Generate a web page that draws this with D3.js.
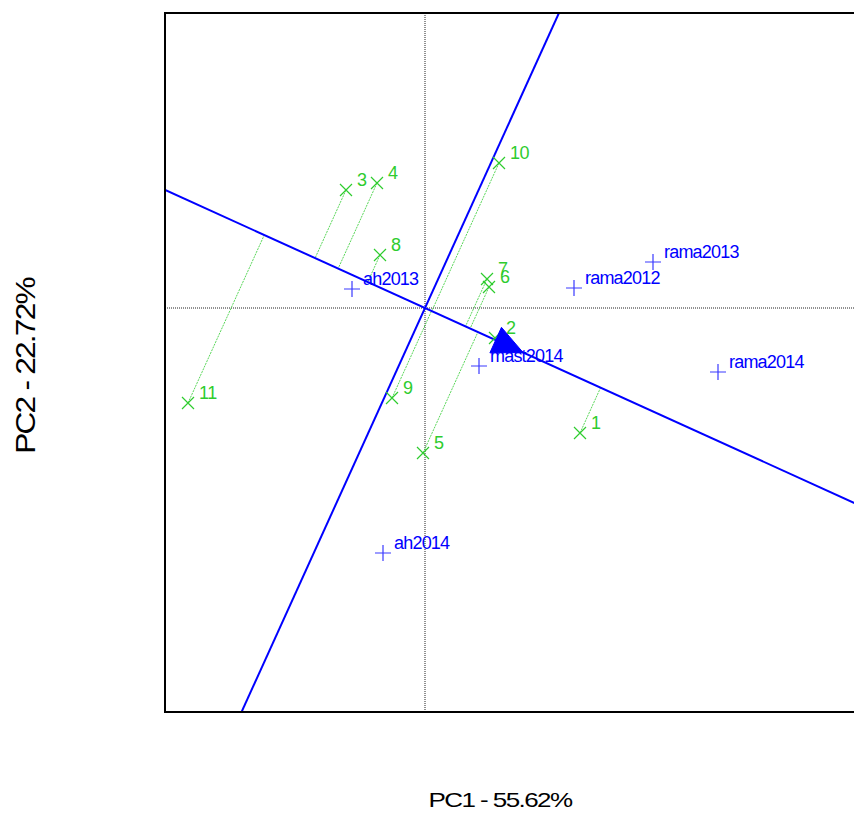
<!DOCTYPE html>
<html>
<head>
<meta charset="utf-8">
<script src="https://cdn.jsdelivr.net/npm/d3@7"></script>
<style>
  html, body { margin: 0; padding: 0; background: #fff; }
  svg { display: block; }
  text { font-family: "Liberation Sans", Arial, sans-serif; }
</style>
</head>
<body>
<svg id="chart" width="854" height="818"></svg>
<script>
// ---- data ----
const genotypes = ["1","2","3","4","5","6","7","8","9","10","11"];
const genoPC1 = [1.55, 0.70, -0.79, -0.48, -0.02, 0.64, 0.62, -0.45, -0.33, 0.74, -2.37];
const genoPC2 = [-1.25, -0.30, 1.18, 1.25, -1.45, 0.21, 0.29, 0.53, -0.90, 1.45, -0.95];

const environments = ["ah2013","ah2014","mast2014","rama2012","rama2013","rama2014"];
const envPC1 = [-0.73, -0.42, 0.54, 1.49, 2.28, 2.93];
const envPC2 = [0.19, -2.45, -0.58, 0.20, 0.46, -0.64];

const avgEnv = [0.98, -0.445];

const xTitle = "PC1 - 55.62%";
const yTitle = "PC2 - 22.72%";
const xDomain = [-2.6, 4.3];
const yDomain = [-4.04, 2.95];

// ---- layout ----
const svg = d3.select("#chart");
const L = 165, T = 13, R = 856, B = 712;
const x = d3.scaleLinear().domain(xDomain).range([L, L + (xDomain[1]-xDomain[0])*100]);
const y = d3.scaleLinear().domain(yDomain).range([B, T]);

const green = "#2ecc2e";
const blue = "#0000ff";

svg.append("defs").append("clipPath").attr("id","plotclip")
  .append("rect").attr("x", L).attr("y", T).attr("width", R-L).attr("height", B-T);

const g = svg.append("g").attr("clip-path","url(#plotclip)");

// dotted axes through origin
g.append("line").attr("x1", L).attr("x2", R).attr("y1", y(0)).attr("y2", y(0))
  .attr("stroke","#222").attr("stroke-width",1).attr("stroke-dasharray","1,1");
g.append("line").attr("x1", x(0)).attr("x2", x(0)).attr("y1", T).attr("y2", B)
  .attr("stroke","#222").attr("stroke-width",1).attr("stroke-dasharray","1,1");

// AEA direction
const len = Math.hypot(avgEnv[0], avgEnv[1]);
const ux = avgEnv[0]/len, uy = avgEnv[1]/len;

// projections of genotypes onto AEA
genotypes.forEach((d,i) => {
  const px = genoPC1[i], py = genoPC2[i];
  const t = px*ux + py*uy;
  g.append("line")
    .attr("x1", x(px)).attr("y1", y(py))
    .attr("x2", x(t*ux)).attr("y2", y(t*uy))
    .attr("stroke", green).attr("stroke-width", 0.8).attr("stroke-dasharray","2,1");
});

// AEA line and perpendicular
const big = 20;
g.append("line")
  .attr("x1", x(-big*ux)).attr("y1", y(-big*uy))
  .attr("x2", x(big*ux)).attr("y2", y(big*uy))
  .attr("stroke", blue).attr("stroke-width", 2);
g.append("line")
  .attr("x1", x(big*uy)).attr("y1", y(-big*ux))
  .attr("x2", x(-big*uy)).attr("y2", y(big*ux))
  .attr("stroke", blue).attr("stroke-width", 2);

// genotype markers (x)
const gs = 6;
genotypes.forEach((d,i) => {
  const cx = x(genoPC1[i]), cy = y(genoPC2[i]);
  g.append("path")
    .attr("d", `M${cx-gs},${cy-gs}L${cx+gs},${cy+gs}M${cx-gs},${cy+gs}L${cx+gs},${cy-gs}`)
    .attr("stroke", green).attr("stroke-width", 1.2).attr("fill","none");
  g.append("text").attr("x", cx+11).attr("y", cy-4)
    .attr("fill", green).attr("font-size", 18).attr("letter-spacing", "-0.5px").text(d);
});

// environment markers (+)
const es = 8;
environments.forEach((d,i) => {
  const cx = x(envPC1[i]), cy = y(envPC2[i]);
  g.append("path")
    .attr("d", `M${cx-es},${cy}L${cx+es},${cy}M${cx},${cy-es}L${cx},${cy+es}`)
    .attr("stroke", "#3a3aff").attr("stroke-width", 1.2).attr("fill","none");
  g.append("text").attr("x", cx+11).attr("y", cy-4)
    .attr("fill", blue).attr("font-size", 18).attr("letter-spacing", "-0.8px").text(d);
});

// average environment arrowhead
{
  const tx = x(avgEnv[0]), ty = y(avgEnv[1]);
  const dx = x(ux) - x(0), dy = y(uy) - y(0);
  const n = Math.hypot(dx, dy);
  const vx = dx/n, vy = dy/n;
  const hl = 30, hw = 14;
  const bx = tx - vx*hl, by = ty - vy*hl;
  g.append("path")
    .attr("d", `M${tx},${ty}L${bx - vy*hw},${by + vx*hw}L${bx + vy*hw},${by - vx*hw}Z`)
    .attr("fill", blue).attr("stroke", blue).attr("stroke-width", 1);
}

// frame
svg.append("path")
  .attr("d", `M${R},${T}L${L},${T}L${L},${B}L${R},${B}`)
  .attr("fill","none").attr("stroke","#000").attr("stroke-width",2);

// axis titles
svg.append("text").attr("transform","translate(500,807) scale(1.3,1)").attr("text-anchor","middle")
  .attr("font-size", 20).attr("letter-spacing","-1.2px").attr("fill","#000").text(xTitle);
svg.append("text").attr("transform","translate(35,366) rotate(-90) scale(1.17,1)").attr("text-anchor","middle")
  .attr("font-size", 27).attr("letter-spacing","-1.5px").attr("fill","#000").text(yTitle);
</script>
</body>
</html>
